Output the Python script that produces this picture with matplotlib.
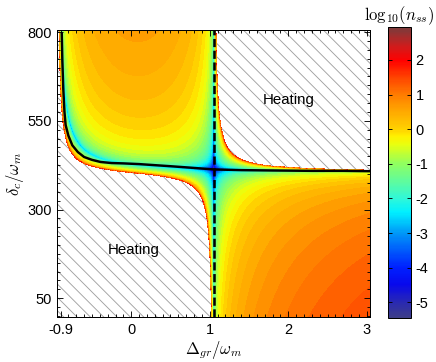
import numpy as np
import matplotlib
matplotlib.use("Agg")
import matplotlib.pyplot as plt
from matplotlib.colors import LinearSegmentedColormap, Normalize
from matplotlib.patches import Rectangle
from matplotlib.ticker import MultipleLocator, FixedLocator
import matplotlib.cm as cm

# ---------------- data ----------------
x_ticks = [-0.9, 0, 1, 2, 3]
x_tick_labels = ["-0.9", "0", "1", "2", "3"]
y_ticks = [50, 300, 550, 800]
y_tick_labels = ["50", "300", "550", "800"]
cbar_ticks = [-5, -4, -3, -2, -1, 0, 1, 2]
cbar_tick_labels = ["-5", "-4", "-3", "-2", "-1", "0", "1", "2"]
x_range = [-0.945, 3.04]
y_range = [-3, 806]
cbar_range = [-5.45, 2.95]

# optimal detuning curve (solid black line)
optimal_delta_gr = [-0.885, -0.877, -0.865, -0.85, -0.835, -0.80, -0.75, -0.68, -0.60,
                    -0.50, -0.39, -0.25, -0.10, 0.10, 0.30, 0.50, 0.75, 1.05, 1.40,
                    1.80, 2.30, 2.70, 3.04]
optimal_delta_c = [800, 720, 640, 575, 538, 508, 481, 462, 448,
                   440, 434, 431, 430, 428, 425, 422, 418, 413, 411,
                   410, 409, 409, 408]

# heating-suppression line (dashed)
suppression_delta_gr = [1.05]

heating_labels = ["Heating", "Heating"]
heating_label_x = [2.0, 0.03]
heating_label_y = [608, 185]

# parameters of the steady-state occupation model (in units of omega_m)
coupling_sq = 24.0
kappa = 7.0
gamma = 3e-6
delta_c_offset = 402.5
delta_gr_shift = 0.05

# ---------------- style ----------------
plt.rcParams["font.family"] = ["Liberation Sans", "DejaVu Sans"]
plt.rcParams["mathtext.fontset"] = "cm"
plt.rcParams["axes.unicode_minus"] = False
plt.rcParams["hatch.linewidth"] = 0.8
plt.rcParams["hatch.color"] = "#a0a0a0"

DPI = 80
fig = plt.figure(figsize=(436 / DPI, 362 / DPI), dpi=DPI)
ax = fig.add_axes([57 / 436, 45 / 362, 313 / 436, 287 / 362])
cax = fig.add_axes([388 / 436, 44 / 362, 23 / 436, 291 / 362])

# colormap
anchors = [(-5.45, "#3e3e88"), (-5.0, "#2828b4"), (-4.5, "#0808ec"), (-4.0, "#0020ff"),
           (-3.0, "#0098f8"), (-2.4, "#00f0ff"), (-2.0, "#30f8d8"), (-1.0, "#90ff60"),
           (-0.45, "#e8ff10"), (-0.2, "#fff000"), (0.0, "#ffd200"), (0.5, "#ffaa00"),
           (1.0, "#ff7c00"), (1.5, "#ff4400"), (2.0, "#ff0000"), (2.4, "#d01c1c"),
           (2.95, "#7a3c3c")]
lo, hi = cbar_range
cmap = LinearSegmentedColormap.from_list(
    "nss", [((a - lo) / (hi - lo), c) for a, c in anchors])
norm = Normalize(vmin=lo, vmax=hi)

# field
u = np.linspace(x_range[0], x_range[1], 900)
v = np.linspace(y_range[0], y_range[1], 900)
U, V = np.meshgrid(u, v)
Dp = U - delta_gr_shift
D = V - delta_c_offset


def spectrum(w):
    chi_inv = kappa / 2 - 1j * (w + D) + coupling_sq / (gamma / 2 - 1j * (w + Dp))
    return (1.0 / chi_inv).real


A_heat = spectrum(-1.0)
A_cool = spectrum(1.0)
net = A_cool - A_heat
with np.errstate(divide="ignore", invalid="ignore"):
    n_ss = np.where(net > 0, A_heat / net, np.nan)
    logn = np.log10(n_ss)
logn = np.clip(logn, lo + 1e-6, hi - 1e-6)
logn = np.ma.masked_invalid(logn)

# hatched background (heating regions)
ax.add_patch(Rectangle((0, 0), 1, 1, transform=ax.transAxes, facecolor="white",
                       edgecolor="#a0a0a0", hatch="\\\\", linewidth=0, zorder=0))

levels = np.linspace(lo, hi, 57)
ax.contourf(U, V, logn, levels=levels, cmap=cmap, norm=norm, zorder=1)

ax.plot(optimal_delta_gr, optimal_delta_c, color="black", lw=2.2, zorder=3,
        solid_capstyle="butt")
for xd in suppression_delta_gr:
    ax.axvline(xd, color="black", lw=2.3, ls=(0, (3.2, 1.4)), zorder=3)

for t, tx, ty in zip(heating_labels, heating_label_x, heating_label_y):
    ax.text(tx, ty, t, fontsize=13.5, ha="center", va="center", zorder=4)

ax.set_xlim(*x_range)
ax.set_ylim(*y_range)
ax.xaxis.set_major_locator(FixedLocator(x_ticks))
ax.set_xticklabels(x_tick_labels)
ax.yaxis.set_major_locator(FixedLocator(y_ticks))
ax.set_yticklabels(y_tick_labels)
ax.xaxis.set_minor_locator(MultipleLocator(0.1))
ax.yaxis.set_minor_locator(MultipleLocator(25))
ax.tick_params(which="both", direction="in", top=True, right=True, labelsize=13,
               width=0.8)
ax.tick_params(which="major", length=5, pad=5)
ax.tick_params(which="minor", length=2.5)
for s in ax.spines.values():
    s.set_linewidth(0.9)

ax.set_xlabel(r"$\Delta_{gr}/\omega_m$", fontsize=15, labelpad=2)
ax.set_ylabel(r"$\delta_c/\omega_m$", fontsize=15, labelpad=1)

sm = cm.ScalarMappable(norm=norm, cmap=cmap)
cb = fig.colorbar(sm, cax=cax, ticks=cbar_ticks)
cb.ax.set_yticklabels(cbar_tick_labels)
cb.ax.tick_params(direction="in", left=True, right=True, length=4, width=0.8,
                  labelsize=13, pad=4)
cb.outline.set_linewidth(0.9)
cax.set_title(r"$\mathrm{log}_{10}(n_{ss})$", fontsize=15, pad=3)

fig.savefig("out.png", dpi=DPI)
